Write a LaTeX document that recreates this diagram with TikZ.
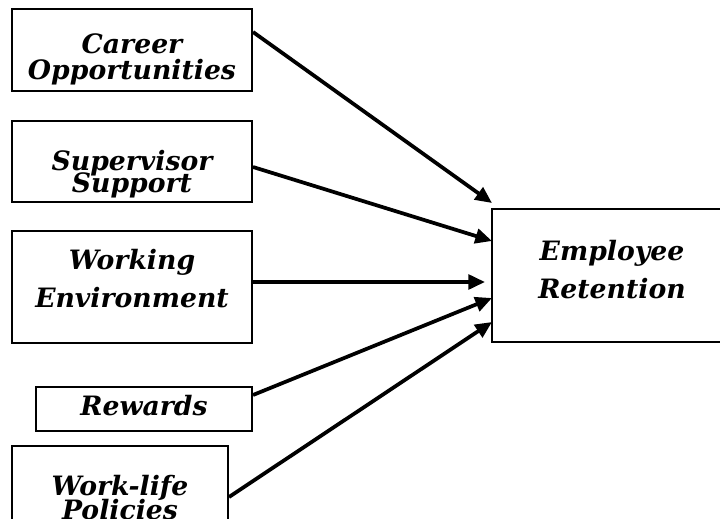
\documentclass[tikz,border=0pt]{standalone}
\usepackage{fontspec}
\setmainfont{DejaVu Serif}
\usepackage{tikz}
\usetikzlibrary{backgrounds}
\usetikzlibrary{arrows.meta}
\usetikzlibrary{calc}
\pgfdeclarelayer{edgelayer}
\pgfdeclarelayer{nodelayer}
\pgfsetlayers{background,edgelayer,nodelayer,main}
\tikzstyle{none}=[inner sep=0mm]
\tikzstyle{factor}=[draw=black,line width=1.5pt,fill=white,shape=rectangle,inner sep=0pt]
\tikzstyle{wide box}=[factor,minimum width=180pt]
\tikzstyle{caption}=[none,align=center,font=\fontsize{20}{19}\selectfont\bfseries\itshape]
\tikzstyle{cause}=[-{Triangle[length=12.5pt,width=11pt]},line width=2.8pt]

\begin{document}
\begin{tikzpicture}[x=0.75pt,y=-0.75pt]
	\useasboundingbox (0,0) rectangle (720,518);
	\clip (0,0) rectangle (720,518);
	\begin{pgfonlayer}{nodelayer}
		\node [style=wide box,minimum height=61.5pt] (career) at (132, 50) {};
		\node [style=wide box,minimum height=60.75pt] (supervisor) at (132, 161.5) {};
		\node [style=wide box,minimum height=84pt] (working) at (132, 287) {};
		\node [style=factor,minimum width=162pt,minimum height=33pt] (rewards) at (144, 409) {};
		\node [style=factor,minimum width=162pt,minimum height=78pt] (worklife) at (120, 498) {};
		\node [style=wide box,minimum height=99.75pt] (retention) at (612, 275.5) {};
		\node [style=caption] (careertext) at (132, 59.5) {Career\\Opportunities};
		\node [style=caption] (supervisortext) at (132, 174) {Supervisor\\[-3pt]Support};
		\node [style=caption] (workingtext) at (132, 278.5) {Working\\[8.5pt]Environment};
		\node [style=caption] (rewardstext) at (144, 405.5) {Rewards};
		\node [style=caption] (worklifetext) at (120, 498) {Work-life\\[-1pt]Policies};
		\node [style=caption] (retentiontext) at (612, 269.5) {Employee\\[8pt]Retention};
	\end{pgfonlayer}
	\begin{pgfonlayer}{edgelayer}
		\draw [style=cause] ($(career.east)+(0,-18)$) to ($(retention.west)+(1,-72.5)$);
		\draw [style=cause] ($(supervisor.east)+(0,5.5)$) to ($(retention.west)+(1,-34.5)$);
		\draw [style=cause] ($(working.east)+(0,-5)$) to ($(retention.west)+(-6,6.5)$);
		\draw [style=cause] ($(rewards.east)+(0,-14)$) to ($(retention.west)+(1,22.5)$);
		\draw [style=cause] ($(worklife.east)+(0,-1)$) to ($(retention.west)+(1,46.5)$);
	\end{pgfonlayer}
\end{tikzpicture}
\end{document}
